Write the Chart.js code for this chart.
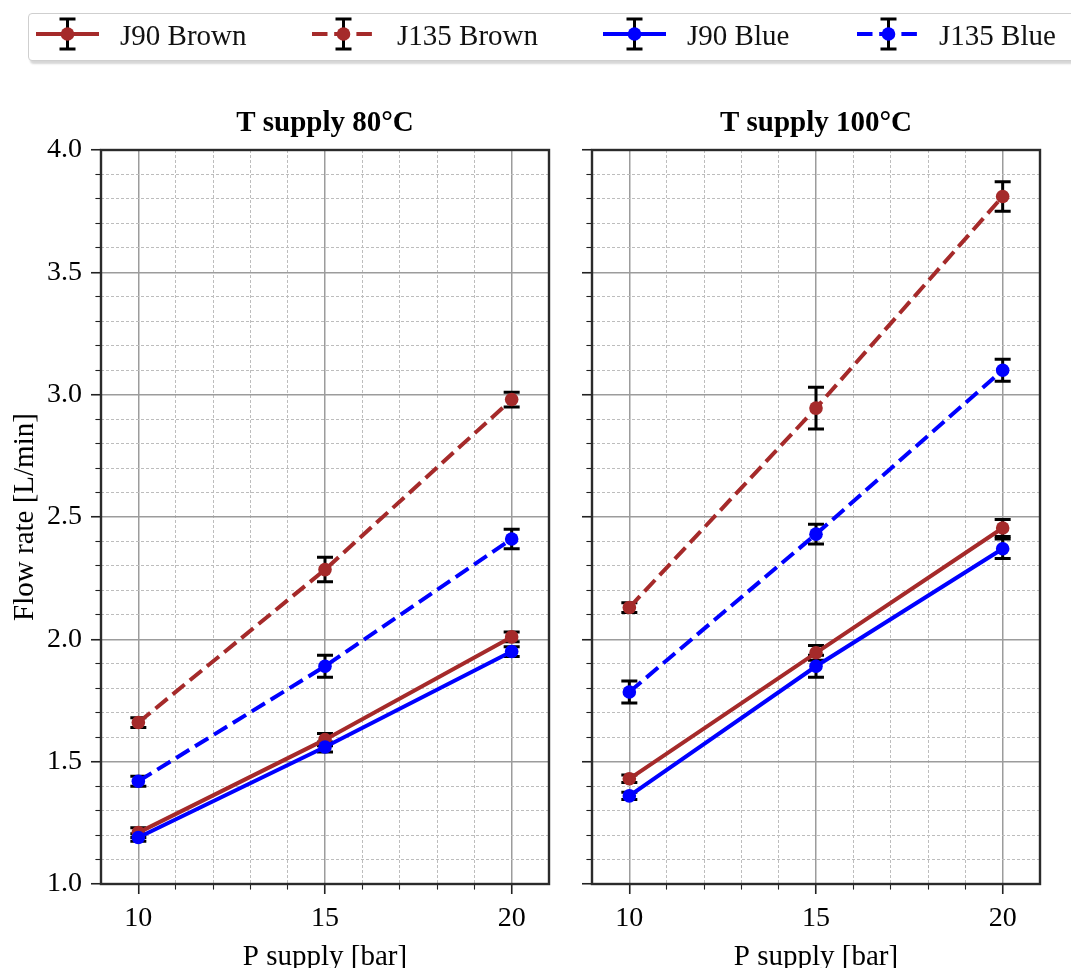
<!DOCTYPE html>
<html><head><meta charset="utf-8">
<script src="https://cdn.jsdelivr.net/npm/chart.js@4.4.1/dist/chart.umd.min.js"></script>
<style>
html,body{margin:0;padding:0;width:1071px;height:968px;overflow:hidden;background:#fff;font-family:"Liberation Serif","Times New Roman",serif;}
#legendBox{position:absolute;left:28px;top:13px;width:1100px;height:46px;border:1px solid #cfcfcf;border-radius:4px;box-shadow:2px 3px 2px rgba(0,0,0,0.16);background:#fff;}
#legendIcons{position:absolute;left:0;top:0;}
.ltxt{position:absolute;top:19px;font-size:29px;line-height:32px;color:#111;white-space:nowrap;}
#c1{position:absolute;left:0;top:100px;}
#c2{position:absolute;left:560px;top:100px;}
</style></head>
<body>
<div id="legendBox"></div>
<canvas id="legendIcons" width="1071" height="70"></canvas>
<span class="ltxt" id="lt0" style="left:120px">J90 Brown</span>
<span class="ltxt" id="lt1" style="left:397px">J135 Brown</span>
<span class="ltxt" id="lt2" style="left:687px">J90 Blue</span>
<span class="ltxt" id="lt3" style="left:939px">J135 Blue</span>
<canvas id="c1" width="560" height="880"></canvas>
<canvas id="c2" width="511" height="880"></canvas>
<script>
// ---------------- data ----------------
const pressure = [10, 15, 20];
const xMajorTicks = [10, 15, 20];
const yMajorTicks = [1.0, 1.5, 2.0, 2.5, 3.0, 3.5, 4.0];
const seriesNames = ['J90 Brown', 'J135 Brown', 'J90 Blue', 'J135 Blue'];
const panelTitles = ['T supply 80\u00B0C', 'T supply 100\u00B0C'];

// T supply 80°C
const j90Brown80 = [1.21, 1.59, 2.01];
const j90Brown80Err = [0.02, 0.025, 0.02];
const j135Brown80 = [1.66, 2.285, 2.98];
const j135Brown80Err = [0.02, 0.05, 0.03];
const j90Blue80 = [1.19, 1.56, 1.95];
const j90Blue80Err = [0.015, 0.02, 0.02];
const j135Blue80 = [1.42, 1.89, 2.41];
const j135Blue80Err = [0.02, 0.045, 0.04];

// T supply 100°C
const j90Brown100 = [1.43, 1.945, 2.455];
const j90Brown100Err = [0.015, 0.03, 0.035];
const j135Brown100 = [2.13, 2.945, 3.81];
const j135Brown100Err = [0.02, 0.085, 0.06];
const j90Blue100 = [1.36, 1.89, 2.37];
const j90Blue100Err = [0.015, 0.045, 0.04];
const j135Blue100 = [1.785, 2.43, 3.10];
const j135Blue100Err = [0.045, 0.04, 0.045];

// ---------------- styles ----------------
const BROWN = '#a52a2a';
const BLUE = '#0000ff';
const DASH = [15.5, 6.7];
const seriesStyle = [
  {color: BROWN, dash: []},
  {color: BROWN, dash: DASH},
  {color: BLUE, dash: []},
  {color: BLUE, dash: DASH}
];
const FONT = 'Liberation Serif';
Chart.defaults.font.family = FONT;
Chart.defaults.color = '#000';

function minorTicks(min, max, step, majors) {
  const out = [];
  const n = Math.round((max - min) / step);
  for (let i = 0; i <= n; i++) {
    const v = +(min + i * step).toFixed(4);
    if (!majors.some(m => Math.abs(m - v) < 1e-6)) out.push(v);
  }
  return out;
}
const yMinorTicks = minorTicks(1.0, 4.0, 0.1, yMajorTicks);
const xMinorTicks = minorTicks(9, 21, 1, xMajorTicks.concat([9, 21]));

const errorBarPlugin = {
  id: 'errbars',
  beforeDatasetsDraw(chart) {
    const ctx = chart.ctx, ys = chart.scales.y;
    ctx.save();
    ctx.strokeStyle = '#000';
    ctx.lineWidth = 3;
    chart.data.datasets.forEach((ds, i) => {
      const meta = chart.getDatasetMeta(i);
      ds.errors.forEach((e, j) => {
        const pt = meta.data[j];
        const v = ds.data[j].y;
        const t = ys.getPixelForValue(v + e), b = ys.getPixelForValue(v - e);
        ctx.beginPath();
        ctx.moveTo(pt.x, t); ctx.lineTo(pt.x, b);
        ctx.moveTo(pt.x - 8, t); ctx.lineTo(pt.x + 8, t);
        ctx.moveTo(pt.x - 8, b); ctx.lineTo(pt.x + 8, b);
        ctx.stroke();
      });
    });
    ctx.restore();
  }
};
const framePlugin = {
  id: 'frame',
  afterDraw(chart) {
    const a = chart.chartArea, ctx = chart.ctx;
    ctx.save();
    ctx.strokeStyle = '#2b2b2b';
    ctx.lineWidth = 2.4;
    ctx.strokeRect(a.left, a.top, a.right - a.left, a.bottom - a.top);
    ctx.restore();
  }
};

function makeDatasets(vals, errs) {
  return vals.map((arr, i) => ({
    label: seriesNames[i],
    data: pressure.map((p, j) => ({x: p, y: arr[j]})),
    errors: errs[i],
    borderColor: seriesStyle[i].color,
    backgroundColor: seriesStyle[i].color,
    pointBackgroundColor: seriesStyle[i].color,
    pointBorderColor: seriesStyle[i].color,
    borderDash: seriesStyle[i].dash,
    borderWidth: 4,
    pointRadius: 6.8,
    pointHoverRadius: 6.8,
    pointBorderWidth: 0,
    tension: 0,
    order: 3 - i
  }));
}

function makePanel(id, title, vals, errs, leftPanel) {
  const yW = leftPanel ? 101 : 32;
  const padR = leftPanel ? 11 : 31;
  new Chart(document.getElementById(id), {
    type: 'line',
    data: {datasets: makeDatasets(vals, errs)},
    plugins: [errorBarPlugin, framePlugin],
    options: {
      responsive: false,
      animation: false,
      events: [],
      layout: {padding: {left: 0, right: padR, top: 0, bottom: 0}},
      plugins: {
        legend: {display: false},
        tooltip: {enabled: false},
        title: {
          display: true, text: title, fullSize: false, color: '#000',
          font: {family: FONT, size: 29, weight: 'bold'},
          padding: {top: 6, bottom: 9.2}
        }
      },
      scales: {
        x: {
          type: 'linear', position: 'bottom', min: 9, max: 21, weight: 1,
          afterBuildTicks: s => { s.ticks = xMajorTicks.map(v => ({value: v})); },
          afterFit: s => { s.height = 96; },
          ticks: {autoSkip: false, maxRotation: 0, padding: 8,
                  font: {family: FONT, size: 28}, color: '#000',
                  callback: v => String(v)},
          grid: {color: '#9c9c9c', lineWidth: 1.5, tickColor: '#222', tickLength: 10, tickWidth: 1.6},
          border: {display: false},
          title: {display: true, text: 'P supply [bar]', color: '#000',
                  font: {family: FONT, size: 29}, padding: {top: 0, bottom: 5.6}}
        },
        xm: {
          type: 'linear', position: 'bottom', min: 9, max: 21, weight: 0,
          afterBuildTicks: s => { s.ticks = xMinorTicks.map(v => ({value: v})); },
          afterFit: s => { s.height = 0; },
          ticks: {display: false, autoSkip: false},
          grid: {color: '#bdbdbd', lineWidth: 1, tickColor: '#222', tickLength: 5.6, tickWidth: 1.1},
          border: {display: false, dash: [3, 2]}
        },
        y: {
          type: 'linear', position: 'left', min: 1.0, max: 4.0, weight: 1,
          afterBuildTicks: s => { s.ticks = yMajorTicks.map(v => ({value: v})); },
          afterFit: s => { s.width = yW; },
          ticks: {display: leftPanel, autoSkip: false, padding: 9,
                  font: {family: FONT, size: 28}, color: '#000',
                  callback: v => Number(v).toFixed(1)},
          grid: {color: '#9c9c9c', lineWidth: 1.5, tickColor: '#222', tickLength: 10, tickWidth: 1.6},
          border: {display: false},
          title: {display: leftPanel, text: 'Flow rate [L/min]', color: '#000',
                  font: {family: FONT, size: 29}, padding: {top: 7.6, bottom: 0}}
        },
        ym: {
          type: 'linear', position: 'left', min: 1.0, max: 4.0, weight: 0,
          afterBuildTicks: s => { s.ticks = yMinorTicks.map(v => ({value: v})); },
          afterFit: s => { s.width = 0; },
          ticks: {display: false, autoSkip: false},
          grid: {color: '#bdbdbd', lineWidth: 1, tickColor: '#222', tickLength: 5.6, tickWidth: 1.1},
          border: {display: false, dash: [3, 2]}
        }
      }
    }
  });
}

makePanel('c1', panelTitles[0],
  [j90Brown80, j135Brown80, j90Blue80, j135Blue80],
  [j90Brown80Err, j135Brown80Err, j90Blue80Err, j135Blue80Err], true);
makePanel('c2', panelTitles[1],
  [j90Brown100, j135Brown100, j90Blue100, j135Blue100],
  [j90Brown100Err, j135Brown100Err, j90Blue100Err, j135Blue100Err], false);

// ---------------- legend icons ----------------
(function drawLegendIcons() {
  const ctx = document.getElementById('legendIcons').getContext('2d');
  const starts = [36, 312, 603, 857];
  const cy = 34;
  starts.forEach((x0, i) => {
    const st = seriesStyle[i];
    const cx = x0 + 31.5;
    ctx.save();
    ctx.strokeStyle = st.color; ctx.lineWidth = 4; ctx.setLineDash(st.dash);
    ctx.beginPath(); ctx.moveTo(x0, cy); ctx.lineTo(x0 + 63, cy); ctx.stroke();
    ctx.setLineDash([]);
    ctx.strokeStyle = '#000'; ctx.lineWidth = 3;
    ctx.beginPath();
    ctx.moveTo(cx, cy - 15); ctx.lineTo(cx, cy + 15);
    ctx.moveTo(cx - 8, cy - 15); ctx.lineTo(cx + 8, cy - 15);
    ctx.moveTo(cx - 8, cy + 15); ctx.lineTo(cx + 8, cy + 15);
    ctx.stroke();
    ctx.fillStyle = st.color;
    ctx.beginPath(); ctx.arc(cx, cy, 6.8, 0, Math.PI * 2); ctx.fill();
    ctx.restore();
  });
})();
</script>
</body></html>
